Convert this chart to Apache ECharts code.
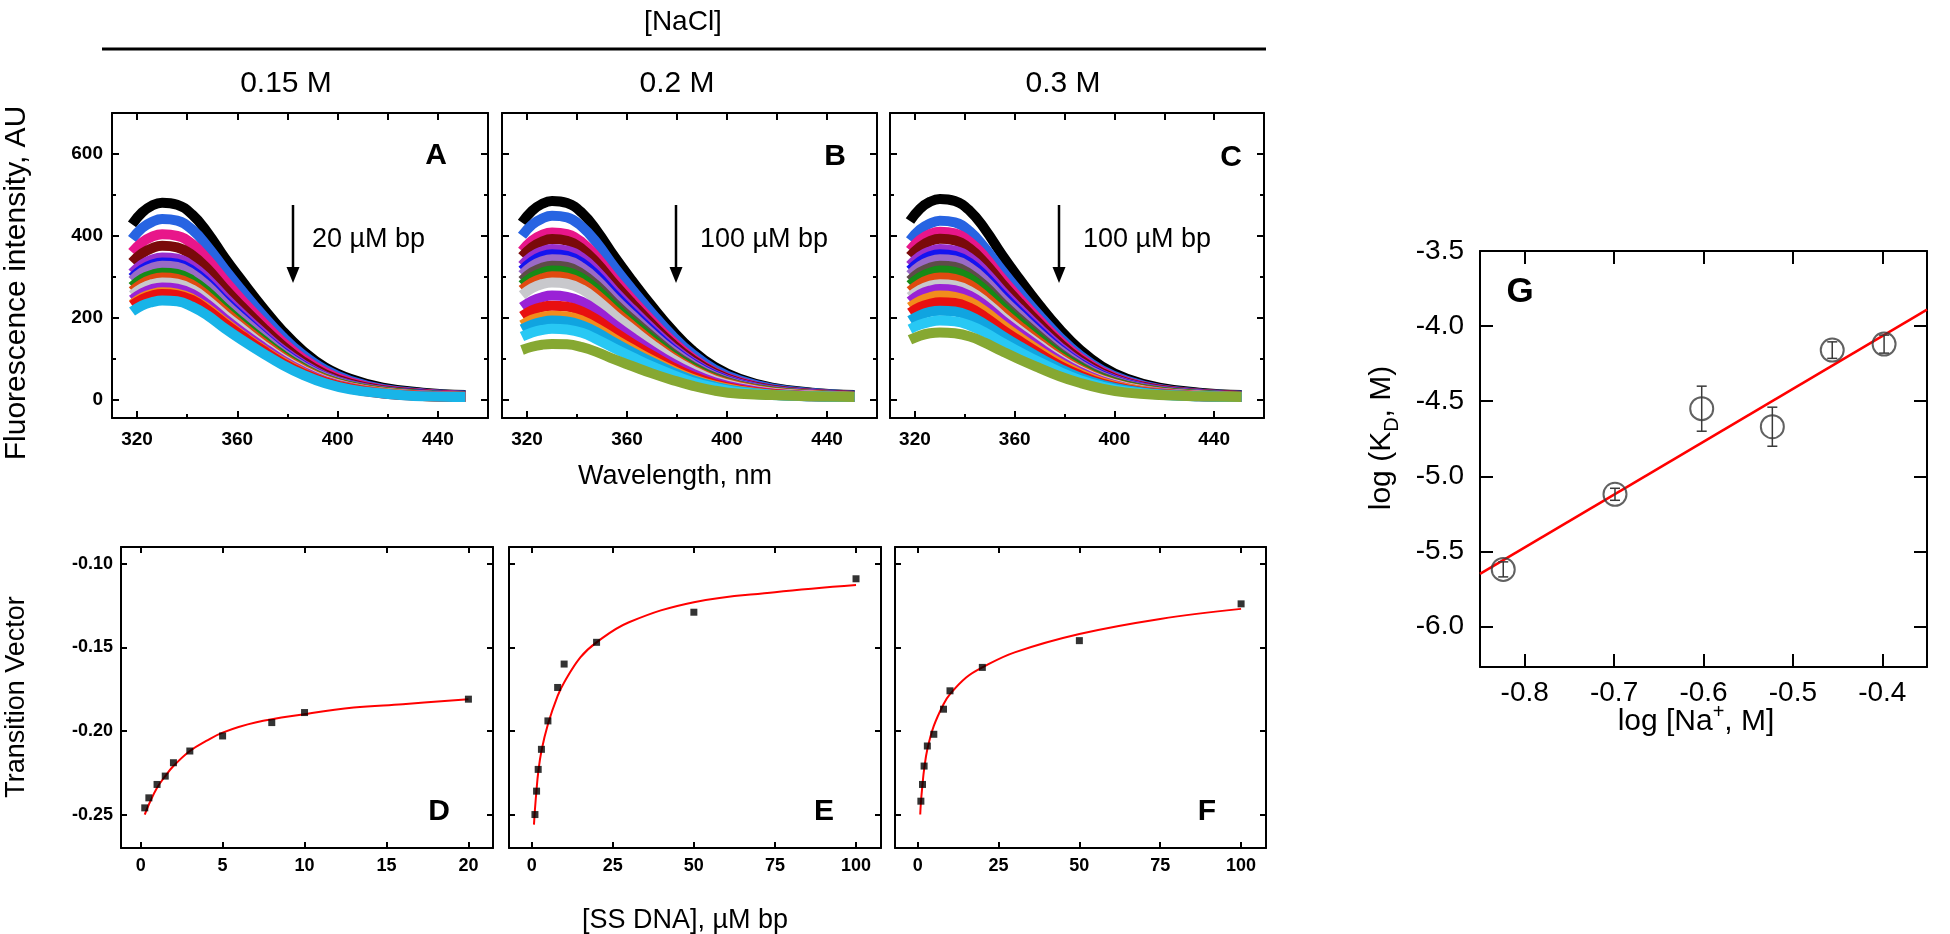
<!DOCTYPE html>
<html><head><meta charset="utf-8">
<script src="https://cdn.jsdelivr.net/npm/echarts@6/dist/echarts.min.js"></script>
<style>html,body{margin:0;padding:0;background:#fff}#c{width:1950px;height:934px}</style>
</head><body><div id="c"></div>
<script>
// ---------- DATA ----------
const wavelengths = [318,322,326,330,336,342,348,355,362,370,378,386,395,405,418,434,451];

const spectraA = [
 [428,457,474,481,476,452,409,346,289,226,168,120,79,51,29,17,11],
 [392,419,434,441,437,415,375,318,265,207,154,110,73,46,26,15,10],
 [360,384,398,404,400,380,343,291,242,190,141,101,67,42,24,14,9],
 [335,357,370,376,372,353,320,271,226,177,132,94,62,39,23,13,8],
 [309,330,342,347,344,326,295,250,208,163,121,87,57,36,21,12,8],
 [298,318,330,335,332,315,285,241,201,157,117,84,55,35,20,12,7],
 [291,311,322,327,324,307,278,235,196,154,114,82,54,34,20,11,7],
 [276,295,305,310,307,291,264,223,186,146,109,78,51,33,19,11,7],
 [265,283,294,298,295,280,253,215,179,140,104,75,49,31,18,10,7],
 [255,272,282,286,283,269,243,206,172,134,100,72,47,30,17,10,6],
 [244,260,270,274,271,258,233,197,164,129,96,69,45,29,16,10,6],
 [233,249,258,262,259,246,223,189,157,123,92,66,43,28,16,9,6],
 [230,245,254,258,255,243,219,186,155,121,90,65,43,27,15,9,6],
 [215,230,238,242,240,227,206,174,145,114,85,61,40,25,15,8,6]
];
const spectraB = [
 [432,461,478,485,480,456,412,349,291,228,170,121,80,51,29,17,11],
 [400,427,442,449,445,422,382,323,269,211,157,112,74,47,27,16,10],
 [363,388,402,408,404,384,347,294,245,192,143,102,67,43,24,14,9],
 [349,372,386,392,388,368,333,282,235,184,137,98,65,41,24,14,9],
 [328,350,362,368,364,346,313,265,221,173,129,92,61,39,22,13,8],
 [316,337,350,355,351,334,302,256,213,167,124,89,59,37,21,12,8],
 [305,326,338,343,340,322,292,247,206,161,120,86,57,36,21,12,8],
 [291,311,322,327,324,307,278,235,196,154,114,82,54,34,20,11,7],
 [280,299,310,315,312,296,268,227,189,148,110,79,52,33,19,11,7],
 [268,286,296,301,298,283,256,217,181,141,105,75,50,32,18,11,7],
 [255,272,282,286,283,269,243,206,172,134,100,72,47,30,17,10,6],
 [226,241,250,254,251,239,216,183,152,119,89,64,42,27,15,9,6],
 [204,218,226,229,227,215,195,165,137,108,80,57,38,24,14,8,6],
 [182,195,202,205,203,193,174,148,123,96,72,51,34,22,12,8,6],
 [172,183,190,193,191,181,164,139,116,91,68,48,32,20,12,8,6],
 [154,164,170,173,171,163,147,125,104,81,61,43,29,18,11,8,6],
 [121,129,134,136,135,128,116,98,82,64,48,34,22,14,11,8,6]
];
const spectraC = [
 [436,466,483,490,485,461,417,353,294,230,172,123,81,51,29,17,11],
 [389,415,430,437,433,411,371,315,262,205,153,109,72,46,26,15,10],
 [365,390,404,410,406,385,349,295,246,193,144,103,68,43,25,14,9],
 [350,373,387,393,389,369,334,283,236,185,138,98,65,41,24,14,9],
 [328,350,362,368,364,346,313,265,221,173,129,92,61,39,22,13,8],
 [316,337,350,355,351,334,302,256,213,167,124,89,59,37,21,12,8],
 [305,326,338,343,340,322,292,247,206,161,120,86,57,36,21,12,8],
 [291,311,322,327,324,307,278,235,196,154,114,82,54,34,20,11,7],
 [280,299,310,315,312,296,268,227,189,148,110,79,52,33,19,11,7],
 [265,283,294,298,295,280,253,215,179,140,104,75,49,31,18,10,7],
 [251,268,278,282,279,265,240,203,169,133,99,71,47,30,17,10,6],
 [240,257,266,270,267,254,230,194,162,127,95,68,45,28,16,9,6],
 [226,241,250,254,251,239,216,183,152,119,89,64,42,27,15,9,6],
 [212,226,234,238,236,224,202,171,143,112,83,60,39,25,14,8,6],
 [193,206,214,217,215,204,184,156,130,102,76,54,36,23,13,8,6],
 [172,183,190,193,191,181,164,139,116,91,68,48,32,20,12,8,6],
 [146,156,162,164,162,154,139,118,98,77,57,41,27,17,11,8,6]
];
const colorsA = ['#000000','#2764e2','#e8168a','#7a0a0a','#9a2ecc','#1414f0','#9a6ac6','#168a16','#e04a10','#c8c8cc','#9a22d6','#f28c1c','#e81010','#18b4e8'];
const colorsB = ['#000000','#2764e2','#e8168a','#7a0a0a','#9a2ecc','#1414f0','#9a6ac6','#5e4c48','#168a16','#e04a10','#c8c8cc','#9a22d6','#e81010','#f28c1c','#10a4e0','#28c8f4','#86a832'];
const colorsC = ['#000000','#2764e2','#e8168a','#7a0a0a','#9a2ecc','#1414f0','#9a6ac6','#5e4c48','#168a16','#e04a10','#c8c8cc','#9a22d6','#f28c1c','#e81010','#10a4e0','#28c8f4','#86a832'];

const dnaD = [0.25,0.5,1,1.5,2,3,5,8,10,20];
const tvD  = [-0.246,-0.240,-0.232,-0.227,-0.219,-0.212,-0.203,-0.195,-0.189,-0.181];
const fitDx = [0.25,0.5,1,1.5,2,3,4,5,7,10,13,16,20];
const fitDy = [-0.250,-0.244,-0.234,-0.227,-0.221,-0.212,-0.206,-0.201,-0.195,-0.190,-0.186,-0.184,-0.181];

const dnaE = [1,1.5,2,3,5,8,10,20,50,100];
const tvE  = [-0.250,-0.236,-0.223,-0.211,-0.194,-0.174,-0.160,-0.147,-0.129,-0.109];
const fitEx = [0.7,1,1.5,2,3,5,8,10,15,20,30,50,75,100];
const fitEy = [-0.256,-0.247,-0.235,-0.225,-0.212,-0.196,-0.179,-0.171,-0.156,-0.147,-0.135,-0.123,-0.117,-0.1127];

const dnaF = [1,1.5,2,3,5,8,10,20,50,100];
const tvF  = [-0.242,-0.232,-0.221,-0.209,-0.202,-0.187,-0.176,-0.162,-0.146,-0.124];
const fitFx = [0.8,1,1.5,2,3,5,8,10,15,20,30,50,75,100];
const fitFy = [-0.250,-0.243,-0.232,-0.223,-0.211,-0.197,-0.184,-0.178,-0.168,-0.162,-0.153,-0.142,-0.133,-0.127];

const logNa = [-0.824,-0.699,-0.602,-0.523,-0.456,-0.398];
const logKd = [-5.62,-5.12,-4.55,-4.67,-4.16,-4.12];
const logKdErr = [0.05,0.04,0.15,0.13,0.055,0.06];
const fitGx = [-0.85,-0.35];
const fitGy = [-5.65,-3.89];

const specXLabels = [320,360,400,440];
const specXMinor = [340,380,420];
const specXTop = [320,340,360,380,400,420,440];
const specYLabels = [0,200,400,600];
const specYMinor = [100,300,500];
const tvYLabels = [-0.25,-0.20,-0.15,-0.10];
const dXLabels = [0,5,10,15,20];
const efXLabels = [0,25,50,75,100];
const gXLabels = [-0.8,-0.7,-0.6,-0.5,-0.4];
const gYLabels = [-6.0,-5.5,-5.0,-4.5,-4.0,-3.5];

// ---------- CHART ----------
const FONT = "'Liberation Sans', Arial, Helvetica, sans-serif";
const chart = echarts.init(document.getElementById('c'), null, {renderer:'canvas', width:1950, height:934});

const grids = [
 {left:112, top:113, width:376, height:305},
 {left:502, top:113, width:375, height:305},
 {left:890, top:113, width:374, height:305},
 {left:121, top:547, width:372, height:301},
 {left:509, top:547, width:372, height:301},
 {left:895, top:547, width:371, height:301},
 {left:1480, top:251, width:447, height:416}
].map(g => Object.assign({containLabel:false, outerBoundsMode:'none', show:false}, g));

const xAxis = [], yAxis = [];
function mk(gi, dim, pos, min, max, o) {
  const a = {
    type:'value', gridIndex:gi, position:pos, min:min, max:max, silent:true,
    axisLine:{show:!!o.line, onZero:false, lineStyle:{color:'#000', width:2}},
    axisTick:{show:!!(o.ticks && o.ticks.length), inside:true, length:o.len || 7,
      lineStyle:{color:'#000', width:2}},
    axisLabel:{show:false},
    splitLine:{show:false}, splitArea:{show:false}, minorTick:{show:false},
    axisPointer:{show:false}
  };
  if (o.ticks && o.ticks.length) a.axisTick.customValues = o.ticks;
  if (o.labels) {
    a.axisLabel = {show:true, customValues:o.labels, margin:o.margin, color:'#000',
      fontFamily:FONT, fontSize:o.fs, fontWeight:o.fw || 'normal',
      showMinLabel:true, showMaxLabel:true,
      formatter: o.fmt || (v => String(v))};
  }
  const arr = dim === 'x' ? xAxis : yAxis;
  arr.push(a);
  return arr.length - 1;
}
function panel(gi, xr, yr, s) {
  const px = mk(gi,'x','bottom',xr[0],xr[1],{line:true,ticks:s.xMaj,len:s.len,labels:s.xLab,margin:s.xm,fs:s.fs,fw:s.fw,fmt:s.xfmt});
  if (s.xMin) mk(gi,'x','bottom',xr[0],xr[1],{ticks:s.xMin,len:s.mlen});
  mk(gi,'x','top',xr[0],xr[1],{line:true,ticks:s.xTop || s.xMaj,len:s.len});
  const py = mk(gi,'y','left',yr[0],yr[1],{line:true,ticks:s.yMaj,len:s.len,labels:s.yLab,margin:s.ym,fs:s.fs,fw:s.fw,fmt:s.yfmt});
  if (s.yMin) mk(gi,'y','left',yr[0],yr[1],{ticks:s.yMin,len:s.mlen});
  mk(gi,'y','right',yr[0],yr[1],{line:true,ticks:s.yMaj,len:s.len});
  if (s.yMin) mk(gi,'y','right',yr[0],yr[1],{ticks:s.yMin,len:s.mlen});
  return [px, py];
}

const series = [];
const specSets = [[spectraA, colorsA],[spectraB, colorsB],[spectraC, colorsC]];
specSets.forEach((set, k) => {
  const ax = panel(k, [310,460], [-45,700], {
    xMaj:specXLabels, xMin:specXMinor, xTop:specXTop, yMaj:specYLabels, yMin:specYMinor,
    len:7, mlen:4, xLab:specXLabels, xm:12, yLab:k===0?specYLabels:null, ym:9, fs:19, fw:'bold'
  });
  set[0].forEach((vals, i) => {
    series.push({type:'line', xAxisIndex:ax[0], yAxisIndex:ax[1], smooth:0.45, symbol:'none',
      silent:true, animation:false,
      lineStyle:{color:set[1][i], width:10, cap:'butt', join:'round'},
      data: wavelengths.map((w, j) => [w, vals[j]])});
  });
});

const tvSets = [
  [dnaD, tvD, fitDx, fitDy, [-1.2,21.5], dXLabels],
  [dnaE, tvE, fitEx, fitEy, [-7,107.7], efXLabels],
  [dnaF, tvF, fitFx, fitFy, [-7,107.7], efXLabels]
];
tvSets.forEach((s, k) => {
  const ax = panel(3+k, s[4], [-0.27,-0.09], {
    xMaj:s[5], yMaj:tvYLabels, len:6, xLab:s[5], xm:9,
    yLab:k===0?tvYLabels:null, ym:8, fs:18, fw:'bold',
    yfmt: v => v.toFixed(2)
  });
  series.push({type:'line', xAxisIndex:ax[0], yAxisIndex:ax[1], smooth:0.4, symbol:'none', silent:true,
    lineStyle:{color:'#ff0000', width:2}, data:s[2].map((x,i)=>[x, s[3][i]])});
  series.push({type:'scatter', xAxisIndex:ax[0], yAxisIndex:ax[1], symbol:'rect', symbolSize:7, silent:true,
    itemStyle:{color:'#000'}, data:s[0].map((x,i)=>[x, s[1][i]]), z:5});
});

const gax = panel(6, [-0.85,-0.35], [-6.27,-3.5], {
  xMaj:gXLabels, yMaj:gYLabels, len:13, xLab:gXLabels, xm:12, yLab:gYLabels, ym:16, fs:28, fw:'normal',
  xfmt: v => v.toFixed(1), yfmt: v => v.toFixed(1)
});
series.push({type:'line', xAxisIndex:gax[0], yAxisIndex:gax[1], symbol:'none', silent:true,
  lineStyle:{color:'#ff0000', width:2.5}, data:fitGx.map((x,i)=>[x, fitGy[i]])});
series.push({type:'custom', xAxisIndex:gax[0], yAxisIndex:gax[1], silent:true, z:4,
  data: logNa.map((x,i)=>[x, logKd[i]-logKdErr[i], logKd[i]+logKdErr[i]]),
  encode:{x:0, y:[1,2]},
  renderItem:(params, api) => {
    const lo = api.coord([api.value(0), api.value(1)]);
    const hi = api.coord([api.value(0), api.value(2)]);
    const w = 5, st = {stroke:'#3a3a3a', lineWidth:1.5};
    return {type:'group', children:[
      {type:'line', shape:{x1:lo[0],y1:lo[1],x2:hi[0],y2:hi[1]}, style:st},
      {type:'line', shape:{x1:lo[0]-w,y1:lo[1],x2:lo[0]+w,y2:lo[1]}, style:st},
      {type:'line', shape:{x1:hi[0]-w,y1:hi[1],x2:hi[0]+w,y2:hi[1]}, style:st}
    ]};
  }});
series.push({type:'scatter', xAxisIndex:gax[0], yAxisIndex:gax[1], symbol:'circle', symbolSize:23, silent:true, z:5,
  itemStyle:{color:'rgba(255,255,255,0)', borderColor:'#3a3a3a', borderWidth:2},
  data: logNa.map((x,i)=>[x, logKd[i]])});

// ---------- TEXT / DECORATION ----------
function txt(x, y, text, size, o) {
  o = o || {};
  const st = {text:text, x:0, y:0, fill:'#000',
    font:(o.bold?'bold ':'') + size + 'px ' + FONT,
    textAlign:o.align || 'center', textVerticalAlign:'middle',
    align:o.align || 'center', verticalAlign:'middle'};
  if (o.rich) st.rich = o.rich;
  return {type:'text', x:x, y:y, rotation:o.rot || 0, silent:true, z:100, style:st};
}
function arrow(x) {
  return [
    {type:'line', silent:true, z:100, shape:{x1:x, y1:205, x2:x, y2:272}, style:{stroke:'#000', lineWidth:2.5}},
    {type:'polygon', silent:true, z:100, shape:{points:[[x-6.5,267],[x+6.5,267],[x,283]]}, style:{fill:'#000'}}
  ];
}
const richKd = {
  a:{fontSize:30, fontFamily:FONT, lineHeight:40, verticalAlign:'middle'},
  s:{fontSize:20, fontFamily:FONT, lineHeight:16, verticalAlign:'bottom'}
};
const richNa = {
  a:{fontSize:30, fontFamily:FONT, lineHeight:40, verticalAlign:'middle'},
  p:{fontSize:20, fontFamily:FONT, lineHeight:16, verticalAlign:'top'}
};
const graphic = [
  txt(683, 22, '[NaCl]', 28),
  {type:'line', silent:true, shape:{x1:102, y1:49, x2:1266, y2:49}, style:{stroke:'#000', lineWidth:3}},
  txt(286, 84, '0.15 M', 30), txt(677, 84, '0.2 M', 30), txt(1063, 84, '0.3 M', 30),
  txt(436, 156, 'A', 30, {bold:true}), txt(835, 157, 'B', 30, {bold:true}), txt(1231, 158, 'C', 30, {bold:true}),
  ...arrow(293), ...arrow(676), ...arrow(1059),
  txt(312, 240, '20 \u00b5M bp', 27, {align:'left'}),
  txt(700, 240, '100 \u00b5M bp', 27, {align:'left'}),
  txt(1083, 240, '100 \u00b5M bp', 27, {align:'left'}),
  txt(17, 283, 'Fluorescence intensity, AU', 30, {rot:Math.PI/2}),
  txt(675, 477, 'Wavelength, nm', 27),
  txt(17, 697, 'Transition Vector', 27, {rot:Math.PI/2}),
  txt(685, 921, '[SS DNA], \u00b5M bp', 27),
  txt(439, 812, 'D', 30, {bold:true}), txt(824, 812, 'E', 30, {bold:true}), txt(1207, 812, 'F', 30, {bold:true}),
  txt(1520, 292, 'G', 35, {bold:true}),
  txt(1382, 438, '{a|log (K}{s|D}{a|, M)}', 30, {rot:Math.PI/2, rich:richKd}),
  txt(1696, 722, '{a|log [Na}{p|+}{a|, M]}', 30, {rich:richNa})
];

chart.setOption({
  animation:false,
  backgroundColor:'#ffffff',
  grid:grids, xAxis:xAxis, yAxis:yAxis, series:series, graphic:graphic,
  tooltip:{show:false}, legend:{show:false}
});
</script></body></html>
